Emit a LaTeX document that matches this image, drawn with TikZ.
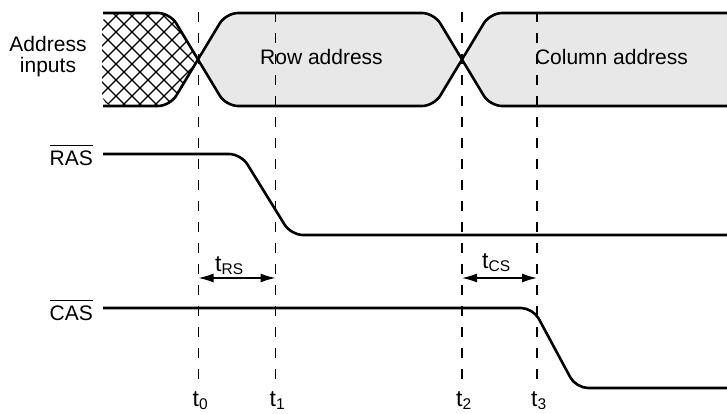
\documentclass[tikz,border=0pt]{standalone}
\usepackage{fontspec}
\setmainfont{Liberation Sans}
\usetikzlibrary{arrows.meta}
\newcommand\ovl[1]{\leavevmode\vbox{\hrule height 1.1pt\kern 4.5pt\hbox{#1}}}
\newcommand\tsub[1]{t\raisebox{-3.5pt}{\fontsize{15.5}{17}\selectfont #1}}
\begin{document}
\begin{tikzpicture}[x=1pt,y=-1pt,
  sig/.style={line width=2.6pt, rounded corners=12pt},
  guide/.style={line width=1.3pt, dash pattern=on 10pt off 11pt},
  hatchline/.style={line width=1.4pt},
  busfill/.style={fill=black!9, rounded corners=12pt},
  lbl/.style={font=\fontsize{21}{24}\selectfont, inner sep=0pt},
  tlbl/.style={font=\fontsize{23}{25}\selectfont, inner sep=0pt},
  dim/.style={line width=1.3pt, {Latex[length=15pt,width=9pt]}-{Latex[length=15pt,width=9pt]}}]
\useasboundingbox (0,0) rectangle (727,414);

% time markers
\foreach \n/\x in {0/198.5,1/275.5,2/462,3/537} {
  \coordinate (top\n) at (\x,12);
  \coordinate (bot\n) at (\x,386);
  \coordinate (mid\n) at (\x,278);
  \node[tlbl, anchor=base west] (tl\n) at (\x-6,406) {\tsub{\n}};
}

% bus fills
\fill[busfill] (198.5,59.5) -- (226,13) -- (434,13) -- (462,59.5) -- (434,106) -- (226,106) -- cycle;
\fill[busfill] (462,59.5) -- (490,13) -- (740,13) -- (740,106) -- (490,106) -- cycle;
\begin{scope}
  \clip[rounded corners=12pt] (102,13) -- (170,13) -- (198.5,59.5) -- (170,106) -- (102,106) -- cycle;
  \foreach \k in {-10,...,20} {
    \draw[hatchline] (\k*16+4,0) -- ++(130,130);
    \draw[hatchline] (\k*16+4,0) -- ++(-130,130);
  }
\end{scope}

% bus outlines
\draw[sig] (103,13) -- (170,13) -- (226,106) -- (434,106) -- (490,13) -- (727,13);
\draw[sig] (103,106) -- (170,106) -- (226,13) -- (434,13) -- (490,106) -- (727,106);

% dashed guides
\foreach \n in {0,1,2,3} { \draw[guide] (top\n) -- (bot\n); }

% labels
\node[lbl, anchor=base] (addr1) at (48,52) {Address};
\node[lbl, anchor=base] (addr2) at (48,73) {inputs};
\node[lbl, anchor=base] (row) at (321.5,65) {Row address};
\node[lbl, anchor=base] (col) at (611.5,65) {Column address};
\node[lbl, anchor=base east] (ras) at (93,165) {\ovl{RAS}};
\node[lbl, anchor=base east] (cas) at (93,320) {\ovl{CAS}};

% RAS and CAS waveforms
\draw[sig] (103,154) -- (241,154) -- (291,235) -- (727,235);
\draw[sig] (103,308) -- (533,308) -- (576,388) -- (727,388);

% timing intervals
\draw[dim] (mid0) -- (mid1);
\node[tlbl, anchor=base west] (trs) at (215,271) {\tsub{RS}};
\draw[dim] (mid2) -- (mid3);
\node[tlbl, anchor=base west] (tcs) at (482,268) {\tsub{CS}};
\end{tikzpicture}
\end{document}
